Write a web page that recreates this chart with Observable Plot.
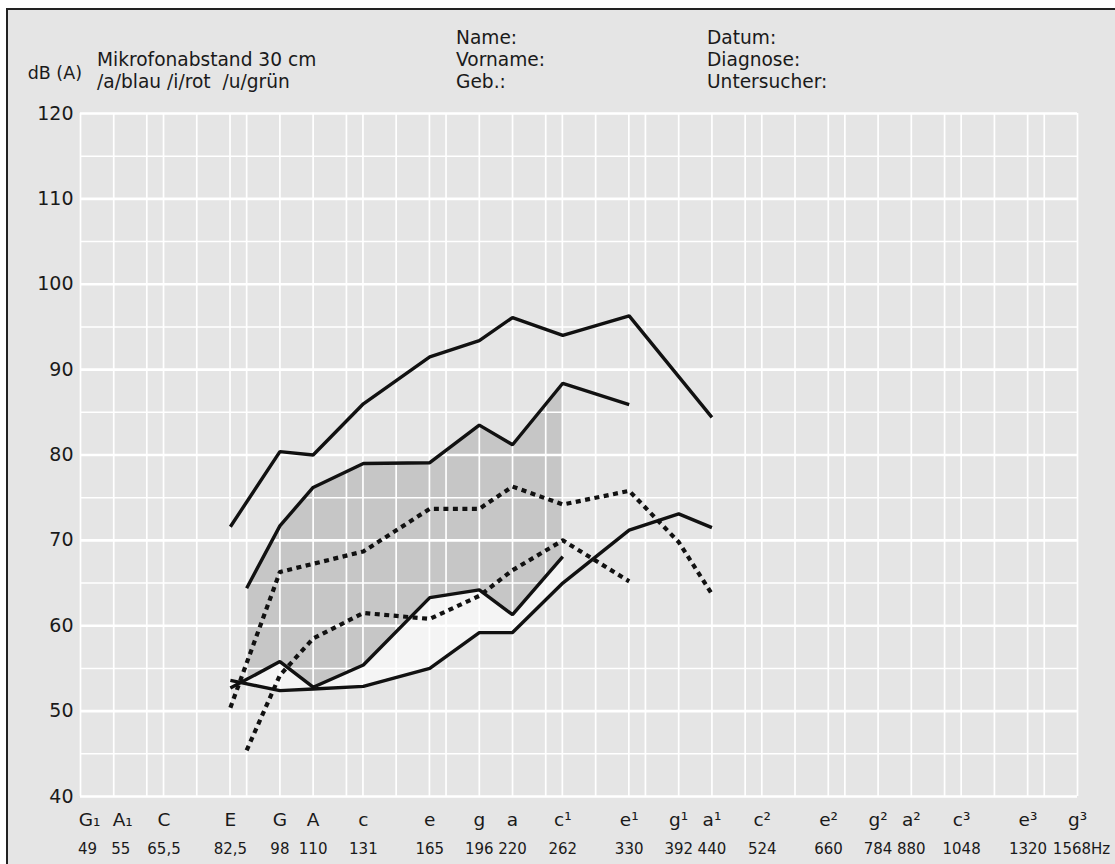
<!DOCTYPE html>
<html>
<head>
<meta charset="utf-8">
<script src="https://cdn.jsdelivr.net/npm/d3@7"></script>
<script src="https://cdn.jsdelivr.net/npm/@observablehq/plot@0.6"></script>
<style>
  html, body { margin: 0; padding: 0; background: #ffffff; }
  body { width: 1115px; height: 864px; position: relative; overflow: hidden; font-family: "DejaVu Sans", sans-serif; color: #1a1a1a; }
  #frame { position: absolute; left: 6px; top: 8px; width: 1200px; height: 900px; background: #e5e5e5; border-top: 2px solid #222; border-left: 2px solid #222; }
  #header { position: absolute; left: 0; top: 0; width: 1115px; height: 100px; }
  #header div { position: absolute; font-size: 18.6px; line-height: 22px; white-space: nowrap; }
  #chart { position: absolute; left: 0; top: 100px; }
</style>
</head>
<body>
<div id="frame"></div>
<div id="header">
  <div style="right:1033px; top:62px; font-size:17.5px;">dB (A)</div>
  <div style="left:97px; top:49px;">Mikrofonabstand 30 cm</div>
  <div style="left:97px; top:71px;">/a/blau /i/rot &nbsp;/u/grün</div>
  <div style="left:456px; top:27px;">Name:</div>
  <div style="left:456px; top:49px;">Vorname:</div>
  <div style="left:456px; top:71px;">Geb.:</div>
  <div style="left:707px; top:27px;">Datum:</div>
  <div style="left:707px; top:49px;">Diagnose:</div>
  <div style="left:707px; top:71px;">Untersucher:</div>
</div>
<div id="chart"></div>
<script>
// ---- x axis: labelled notes and their frequencies (Hz)
const notesHz   = [49, 55, 65.5, 82.5, 98, 110, 131, 165, 196, 220, 262, 330, 392, 440, 524, 660, 784, 880, 1048, 1320, 1568];
const noteNames = ["G\u2081", "A\u2081", "C", "E", "G", "A", "c", "e", "g", "a", "c\u00b9", "e\u00b9", "g\u00b9", "a\u00b9", "c\u00b2", "e\u00b2", "g\u00b2", "a\u00b2", "c\u00b3", "e\u00b3", "g\u00b3"];
const hzLabels  = ["49", "55", "65,5", "82,5", "98", "110", "131", "165", "196", "220", "262", "330", "392", "440", "524", "660", "784", "880", "1048", "1320", "1568Hz"];

// ---- vertical grid: every white-key note from G1 to g3 (Hz)
const gridHz = [49, 55, 61.7, 65.4, 73.4, 82.4, 87.3, 98, 110, 123.5, 130.8, 146.8, 164.8, 174.6, 196, 220, 246.9,
                261.6, 293.7, 329.6, 349.2, 392, 440, 493.9, 523.3, 587.3, 659.3, 698.5, 784, 880, 987.8,
                1046.5, 1174.7, 1318.5, 1396.9, 1568];

// ---- y axis (dB(A))
const dbMajor = [40, 50, 60, 70, 80, 90, 100, 110, 120];
const dbMinor = [45, 55, 65, 75, 85, 95, 105, 115];

// ---- curves (note frequency, level)
const loudTopHz = [82.5, 98, 110, 131, 165, 196, 220, 262, 330, 440];
const loudTopDb = [71.6, 80.4, 80.0, 86.0, 91.5, 93.4, 96.1, 94.0, 96.3, 84.4];

const loudMidHz = [87.3, 98, 110, 131, 165, 196, 220, 262, 330];
const loudMidDb = [64.4, 71.7, 76.2, 79.0, 79.1, 83.5, 81.2, 88.4, 85.9];

const softMidHz = [82.5, 98, 110, 131, 165, 196, 220, 262];
const softMidDb = [52.7, 55.8, 52.8, 55.4, 63.3, 64.2, 61.3, 68.1];

const softLowHz = [82.5, 98, 110, 131, 165, 196, 220, 262, 330, 392, 440];
const softLowDb = [53.6, 52.4, 52.6, 52.9, 55.0, 59.2, 59.2, 65.0, 71.2, 73.1, 71.5];

const dotTopHz = [82.5, 98, 131, 165, 196, 220, 262, 330, 392, 440];
const dotTopDb = [50.4, 66.3, 68.7, 73.7, 73.7, 76.3, 74.2, 75.8, 69.8, 63.7];

const dotLowHz = [87.3, 98, 110, 131, 165, 196, 220, 262, 330];
const dotLowDb = [45.4, 54.2, 58.5, 61.5, 60.8, 63.5, 66.5, 70.0, 65.2];

// ---- shaded field: upper edge = loudMid (F..c1), lower edge
const shadeHz  = [87.3, 98, 110, 131, 165, 196, 220, 262];
const shadeTop = [64.4, 71.7, 76.2, 79.0, 79.1, 83.5, 81.2, 88.4];
const shadeLow = [53.9, 55.8, 52.8, 55.4, 63.3, 64.2, 61.3, 68.1];

const idx = n => d3.range(n);
const lineOpts = {stroke: "#111", strokeWidth: 3.4, strokeLinejoin: "miter", strokeLinecap: "butt"};
const dotOpts = {stroke: "#111", strokeWidth: 4.2, strokeDasharray: "5,4.5", strokeLinecap: "butt"};
const n = notesHz.length;
const first = idx(2), mid = d3.range(2, n - 1), last = [n - 1];
const lab = {frameAnchor: "bottom", fill: "#1a1a1a"};

const chart = Plot.plot({
  width: 1115,
  height: 764,
  marginLeft: 80,
  marginRight: 38,
  marginTop: 13,
  marginBottom: 68,
  x: {type: "log", domain: [49, 1568], axis: null},
  y: {domain: [40, 120], axis: null},
  style: {background: "transparent", fontFamily: "'DejaVu Sans', sans-serif", color: "#1a1a1a", overflow: "visible"},
  marks: [
    Plot.areaY(idx(shadeHz.length), {x: i => shadeHz[i], y1: i => shadeLow[i], y2: i => shadeTop[i], fill: "#c6c6c6"}),
    Plot.areaY(idx(softMidHz.length), {x: i => softMidHz[i], y1: i => softLowDb[i], y2: i => softMidDb[i], fill: "#f4f4f4"}),
    Plot.ruleY(dbMinor, {stroke: "#ffffff", strokeWidth: 1.6}),
    Plot.ruleY(dbMajor, {stroke: "#ffffff", strokeWidth: 2.6}),
    Plot.ruleX(gridHz, {stroke: "#ffffff", strokeWidth: 1.7}),
    Plot.line(idx(loudTopHz.length), {x: i => loudTopHz[i], y: i => loudTopDb[i], ...lineOpts}),
    Plot.line(idx(loudMidHz.length), {x: i => loudMidHz[i], y: i => loudMidDb[i], ...lineOpts}),
    Plot.line(idx(softMidHz.length), {x: i => softMidHz[i], y: i => softMidDb[i], ...lineOpts}),
    Plot.line(idx(softLowHz.length), {x: i => softLowHz[i], y: i => softLowDb[i], ...lineOpts}),
    Plot.line(idx(dotTopHz.length), {x: i => dotTopHz[i], y: i => dotTopDb[i], ...dotOpts}),
    Plot.line(idx(dotLowHz.length), {x: i => dotLowHz[i], y: i => dotLowDb[i], ...dotOpts}),
    Plot.axisY(dbMajor, {tickSize: 0, tickPadding: 7, fontSize: 19, tickFormat: d => String(d)}),
    Plot.text(first, {x: i => notesHz[i], text: i => noteNames[i], ...lab, dx: 9, dy: 29, fontSize: 18.5}),
    Plot.text(mid, {x: i => notesHz[i], text: i => noteNames[i], ...lab, dy: 29, fontSize: 18.5}),
    Plot.text(last, {x: i => notesHz[i], text: i => noteNames[i], ...lab, dy: 29, fontSize: 18.5}),
    Plot.text(first, {x: i => notesHz[i], text: i => hzLabels[i], ...lab, dx: 7, dy: 57, fontSize: 15}),
    Plot.text(mid, {x: i => notesHz[i], text: i => hzLabels[i], ...lab, dy: 57, fontSize: 15}),
    Plot.text(last, {x: i => notesHz[i], text: i => hzLabels[i], ...lab, dx: 4, dy: 57, fontSize: 15})
  ]
});
document.getElementById("chart").appendChild(chart);
</script>
</body>
</html>
